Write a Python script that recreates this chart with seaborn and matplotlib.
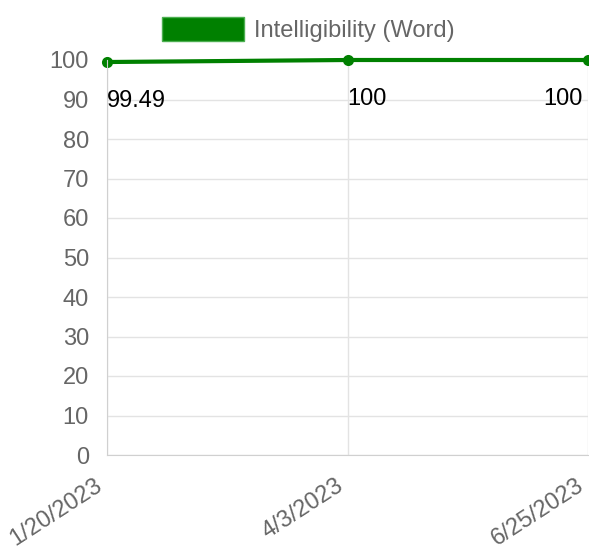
import matplotlib
matplotlib.use("Agg")
import matplotlib.pyplot as plt
import matplotlib.transforms as mtrans
from matplotlib.patches import Patch
import seaborn as sns
import pandas as pd

# data
dates = ["1/20/2023", "4/3/2023", "6/25/2023"]
scores = [99.49, 100, 100]
label_text = ["99.49", "100", "100"]
series_name = "Intelligibility (Word)"

df = pd.DataFrame({"idx": range(len(dates)), "score": scores})

sns.set_style("white")
plt.rcParams["font.family"] = ["Liberation Sans", "DejaVu Sans"]
fs = 17

fig = plt.figure(figsize=(5.89, 5.5), dpi=100)
ax = fig.add_axes([107 / 589, 1 - 455 / 550, (588 - 107) / 589, (455 - 60) / 550])

sns.lineplot(data=df, x="idx", y="score", ax=ax, color="green", linewidth=3,
             marker="o", markersize=8, markeredgewidth=0, clip_on=False)

ax.set_xlim(0, len(dates) - 1)
ax.set_ylim(0, 100)
ax.set_yticks(range(0, 101, 10))
ax.set_xticks(df["idx"])
ax.set_xticklabels(dates, rotation=33, ha="right", rotation_mode="anchor")
ax.set_xlabel("")
ax.set_ylabel("")

grid_c = "#e3e3e3"
ax.grid(True, color=grid_c, linewidth=1)
for s in ["top", "right"]:
    ax.spines[s].set_visible(False)
for s in ["left", "bottom"]:
    ax.spines[s].set_color("#d0d0d0")
ax.tick_params(axis="both", length=8, color=grid_c, labelcolor="#666666",
               labelsize=fs, direction="out")
ax.tick_params(axis="y", pad=5)
ax.tick_params(axis="x", pad=6)

# nudge the rotated date labels left a little, like the original
shift = mtrans.ScaledTranslation(-9 / 72, 0, fig.dpi_scale_trans)
for lab in ax.get_xticklabels():
    lab.set_transform(lab.get_transform() + shift)

# data labels under each point
for i, (v, t) in enumerate(zip(scores, label_text)):
    last = i == len(scores) - 1
    ax.annotate(t, (i, v), xytext=(-4 if last else 0, -28), textcoords="offset points",
                ha="right" if last else "left", va="center", fontsize=fs, color="black")

fig.legend(handles=[Patch(facecolor="green", edgecolor="#4caf50", linewidth=1)],
           labels=[series_name], loc="upper center",
           bbox_to_anchor=(308 / 589, 1 + 4 / 550), frameon=False,
           handlelength=3.5, handleheight=1.2, handletextpad=0.4,
           fontsize=fs, labelcolor="#666666")

fig.savefig("out.png", dpi=100)
